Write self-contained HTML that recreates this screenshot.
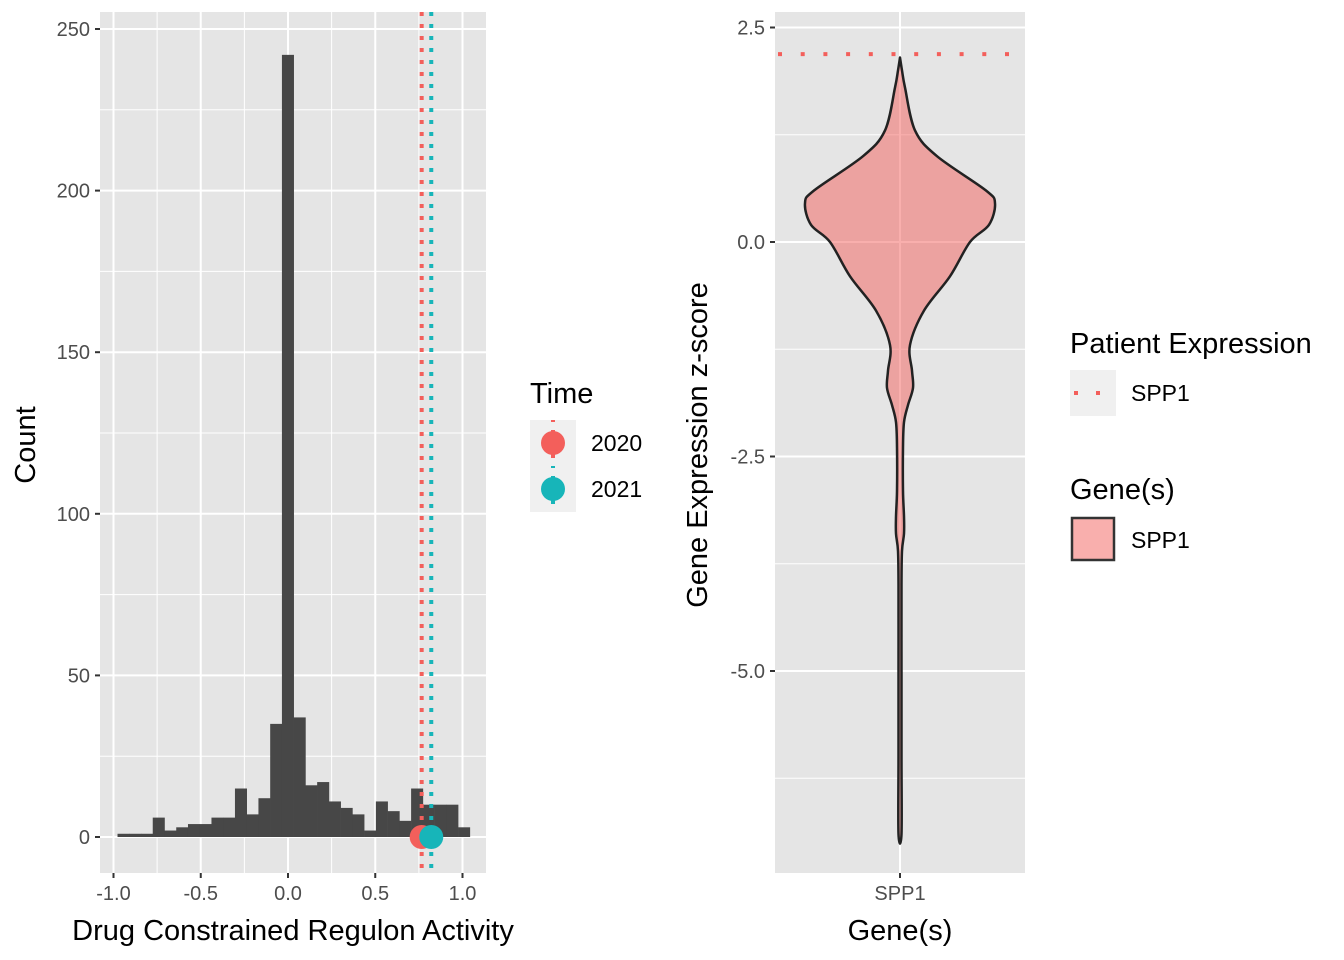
<!DOCTYPE html>
<html><head><meta charset="utf-8"><style>
body{margin:0;background:#fff;}
svg{display:block;font-family:"Liberation Sans",Arial,sans-serif;}
</style></head><body>
<svg id="chart" width="1344" height="960" viewBox="0 0 1344 960"></svg>
<script>
// Histogram data
const binStart = -0.977;
const binWidth = 0.0673;
const counts = [1,1,1,6,2,3,4,4,6,6,15,7,12,35,242,37,16,17,11,9,7,2,11,8,5,15,10,10,10,3];
const xTicks = [-1.0,-0.5,0.0,0.5,1.0];
const xTickLabels = ["-1.0","-0.5","0.0","0.5","1.0"];
const yTicks = [0,50,100,150,200,250];
const timeLabels = ["2020","2021"];
const timeValues = [0.766,0.821];
const timeColors = ["#F35F5B","#17B5B9"];
// Violin data
const violinY = [2.15,2.0,1.8,1.3,1.0,0.6,0.45,0.2,0.0,-0.4,-0.8,-1.2,-1.5,-1.7,-1.9,-2.1,-2.4,-2.9,-3.2,-3.4,-3.6,-4.0,-5.0,-6.0,-6.9];
const violinHW = [0,2,5,15,37,86,95,89,70,50,24,10,12,13,8,4,3,3,4,4,2,1.5,1.5,1.5,1.5];
const patientValue = 2.19;
const vTicks = [2.5,0.0,-2.5,-5.0];
const vTickLabels = ["2.5","0.0","-2.5","-5.0"];

const TICK=20, TITLE=29, LEG=23;
const svg = document.getElementById('chart');
const NS = 'http://www.w3.org/2000/svg';
function mk(tag, attrs, parent){const e=document.createElementNS(NS,tag);for(const k in attrs)e.setAttribute(k,attrs[k]);(parent||svg).appendChild(e);return e;}

// LEFT PANEL
const L={x0:100,x1:486,y0:12,y1:873};
const xs=v=>288+v*174.5;
const ys=v=>837-v*3.232;
const lp=mk('rect',{x:L.x0,y:L.y0,width:L.x1-L.x0,height:L.y1-L.y0,fill:'#E5E5E5'});


for(let i=0;i<xTicks.length-1;i++){const v=(xTicks[i]+xTicks[i+1])/2;mk('line',{x1:xs(v),x2:xs(v),y1:L.y0,y2:L.y1,stroke:'#fff','stroke-width':1});}
for(let i=0;i<yTicks.length-1;i++){const v=(yTicks[i]+yTicks[i+1])/2;mk('line',{x1:L.x0,x2:L.x1,y1:ys(v),y2:ys(v),stroke:'#fff','stroke-width':1});}
xTicks.forEach((v,i)=>{
  mk('line',{x1:xs(v),x2:xs(v),y1:L.y0,y2:L.y1,stroke:'#fff','stroke-width':2});
  mk('line',{x1:xs(v),x2:xs(v),y1:L.y1,y2:L.y1+5,stroke:'#333','stroke-width':2});
  const t=mk('text',{x:xs(v),y:L.y1+27,'text-anchor':'middle','font-size':TICK,fill:'#4D4D4D'});t.textContent=xTickLabels[i];
  
});
yTicks.forEach(v=>{
  mk('line',{x1:L.x0,x2:L.x1,y1:ys(v),y2:ys(v),stroke:'#fff','stroke-width':2});
  mk('line',{x1:L.x0-5,x2:L.x0,y1:ys(v),y2:ys(v),stroke:'#333','stroke-width':2});
  const t=mk('text',{x:L.x0-10,y:ys(v)+7,'text-anchor':'end','font-size':TICK,fill:'#4D4D4D'});t.textContent=String(v);
  
});
counts.forEach((c,i)=>{
  const a=binStart+i*binWidth,b=a+binWidth;
  const r=mk('rect',{x:xs(a),y:ys(c),width:xs(b)-xs(a)+0.3,height:ys(0)-ys(c),fill:'#474747'});
  
  
});
timeValues.forEach((v,i)=>{
  const l=mk('line',{x1:xs(v),x2:xs(v),y1:L.y0,y2:L.y1,stroke:timeColors[i],'stroke-width':4,'stroke-dasharray':'4 8'});
  
  
});
timeValues.forEach((v,i)=>{
  const c=mk('circle',{cx:xs(v),cy:ys(0),r:12,fill:timeColors[i]});
  
  
});
let t=mk('text',{x:293,y:940,'text-anchor':'middle','font-size':TITLE,fill:'#000'});t.textContent='Drug Constrained Regulon Activity';

t=mk('text',{x:0,y:0,'text-anchor':'middle','font-size':TITLE,fill:'#000',transform:'translate(35,445) rotate(-90)'});t.textContent='Count';


// Time legend
t=mk('text',{x:530,y:403,'font-size':TITLE,fill:'#000'});t.textContent='Time';

mk('rect',{x:530,y:420,width:46,height:92,fill:'#F0F0F0'});
timeLabels.forEach((lab,i)=>{
  const cy=443+i*46;
  mk('line',{x1:553,x2:553,y1:cy-23,y2:cy+23,stroke:timeColors[i],'stroke-width':4,'stroke-dasharray':'4 8','stroke-dashoffset':2});
  const c=mk('circle',{cx:553,cy:cy,r:12,fill:timeColors[i]});
  
  const tt=mk('text',{x:591,y:cy+8,'font-size':LEG,fill:'#000'});tt.textContent=lab;
  
});

// RIGHT PANEL
const R={x0:775,x1:1025,y0:12,y1:873};
const cx=900;
const vy=v=>242-v*85.8;
const rp=mk('rect',{x:R.x0,y:R.y0,width:R.x1-R.x0,height:R.y1-R.y0,fill:'#E5E5E5'});

for(let i=0;i<vTicks.length;i++){const v=vTicks[i]-1.25;mk('line',{x1:R.x0,x2:R.x1,y1:vy(v),y2:vy(v),stroke:'#fff','stroke-width':1});}
vTicks.forEach((v,i)=>{
  mk('line',{x1:R.x0,x2:R.x1,y1:vy(v),y2:vy(v),stroke:'#fff','stroke-width':2});
  mk('line',{x1:R.x0-5,x2:R.x0,y1:vy(v),y2:vy(v),stroke:'#333','stroke-width':2});
  const tt=mk('text',{x:R.x0-10,y:vy(v)+7,'text-anchor':'end','font-size':TICK,fill:'#4D4D4D'});tt.textContent=vTickLabels[i];
  
});
mk('line',{x1:cx,x2:cx,y1:R.y0,y2:R.y1,stroke:'#fff','stroke-width':2});
mk('line',{x1:cx,x2:cx,y1:R.y1,y2:R.y1+5,stroke:'#333','stroke-width':2});
const pts=[];
violinY.forEach((v,i)=>pts.push([cx+violinHW[i],vy(v)]));
for(let i=violinY.length-1;i>=0;i--)pts.push([cx-violinHW[i],vy(violinY[i])]);
function smooth(p){let d='M'+p[0][0]+','+p[0][1];for(let i=0;i<p.length-1;i++){const p0=p[Math.max(i-1,0)],p1=p[i],p2=p[i+1],p3=p[Math.min(i+2,p.length-1)];
 const c1=[p1[0]+(p2[0]-p0[0])/6,p1[1]+(p2[1]-p0[1])/6],c2=[p2[0]-(p3[0]-p1[0])/6,p2[1]-(p3[1]-p1[1])/6];
 d+=' C'+c1[0]+','+c1[1]+' '+c2[0]+','+c2[1]+' '+p2[0]+','+p2[1];}return d+'Z';}
const vp=mk('path',{d:smooth(pts),fill:'#F35F5B','fill-opacity':0.5,stroke:'#222','stroke-width':2.5,'stroke-linejoin':'round'});

const pl=mk('line',{x1:R.x0,x2:R.x1,y1:vy(patientValue),y2:vy(patientValue),stroke:'#F35F5B','stroke-width':4,'stroke-dasharray':'4 18.7','stroke-dashoffset':-3});

t=mk('text',{x:cx,y:R.y1+27,'text-anchor':'middle','font-size':TICK,fill:'#4D4D4D'});t.textContent='SPP1';

t=mk('text',{x:cx,y:940,'text-anchor':'middle','font-size':TITLE,fill:'#000'});t.textContent='Gene(s)';

t=mk('text',{x:0,y:0,'text-anchor':'middle','font-size':TITLE,fill:'#000',transform:'translate(707,445) rotate(-90)'});t.textContent='Gene Expression z-score';


// Right legends
t=mk('text',{x:1070,y:353,'font-size':TITLE,fill:'#000'});t.textContent='Patient Expression';

mk('rect',{x:1070,y:370,width:46,height:46,fill:'#F0F0F0'});
mk('line',{x1:1074,x2:1116,y1:393,y2:393,stroke:'#F35F5B','stroke-width':4,'stroke-dasharray':'4 18'});
t=mk('text',{x:1131,y:401,'font-size':LEG,fill:'#000'});t.textContent='SPP1';

t=mk('text',{x:1070,y:499,'font-size':TITLE,fill:'#000'});t.textContent='Gene(s)';

const gk=mk('rect',{x:1072,y:518,width:42,height:42,fill:'#F35F5B','fill-opacity':0.5,stroke:'#333','stroke-width':2.5});

t=mk('text',{x:1131,y:548,'font-size':LEG,fill:'#000'});t.textContent='SPP1';

</script>
</body></html>
